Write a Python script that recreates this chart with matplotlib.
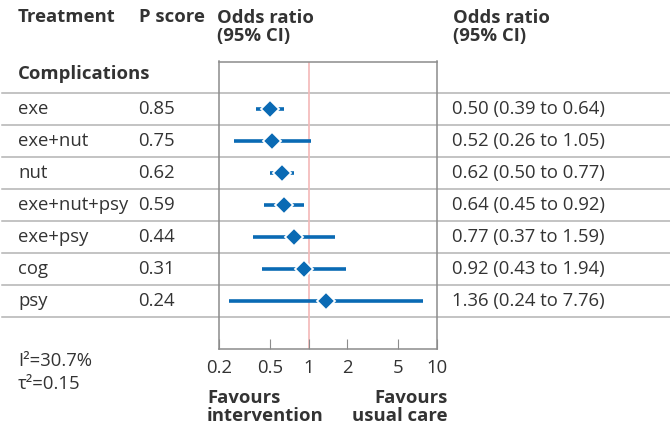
import matplotlib
matplotlib.use("Agg")
import matplotlib.pyplot as plt
import matplotlib.transforms as mtransforms

plt.rcParams['font.family'] = ['Open Sans', 'DejaVu Sans']

treatments = ["exe", "exe+nut", "nut", "exe+nut+psy", "exe+psy", "cog", "psy"]
p_scores = ["0.85", "0.75", "0.62", "0.59", "0.44", "0.31", "0.24"]
odds = [0.50, 0.52, 0.62, 0.64, 0.77, 0.92, 1.36]
lower = [0.39, 0.26, 0.50, 0.45, 0.37, 0.43, 0.24]
upper = [0.64, 1.05, 0.77, 0.92, 1.59, 1.94, 7.76]
xticks = [0.2, 0.5, 1, 2, 5, 10]
xticklabels = ["0.2", "0.5", "1", "2", "5", "10"]

W, H = 670, 432
fig = plt.figure(figsize=(W / 100, H / 100), dpi=100)
ax_l, ax_r, ax_t, ax_b = 219, 437, 61.5, 349
ax = fig.add_axes([ax_l / W, 1 - ax_b / H, (ax_r - ax_l) / W, (ax_b - ax_t) / H])

blue = "#0a6ab4"
txt = "#333333"
grid = "#b3b3b3"
fs = 13.3

ax.set_xscale("log")
ax.set_xlim(0.2, 10)
ax.set_ylim(7.5, -1.48)
ax.axvline(1, color="#f4b8b8", lw=1.2, zorder=1)

n = len(treatments)
for i in range(n):
    ax.plot([lower[i], upper[i]], [i, i], color=blue, lw=2.6, solid_capstyle="butt", zorder=2)
    ax.plot(odds[i], i, marker="D", ms=9.5, color=blue, mec="white", mew=1.3, zorder=3)

for k in range(n + 1):
    ax.axhline(k - 0.5, xmin=(2 - ax_l) / (ax_r - ax_l), xmax=(670 - ax_l) / (ax_r - ax_l),
               color=grid, lw=1.1, clip_on=False, zorder=0)

for s in ax.spines.values():
    s.set_color("#8c8c8c")
    s.set_linewidth(1.1)
ax.set_xticks(xticks)
ax.set_xticklabels(xticklabels)
ax.minorticks_off()
ax.tick_params(axis="x", direction="in", length=7, color="#8c8c8c", labelsize=fs,
               labelcolor=txt, pad=7)
ax.set_yticks([])

tr = mtransforms.blended_transform_factory(fig.transFigure, ax.transData)
for i in range(n):
    ax.text(18 / W, i, treatments[i], transform=tr, ha="left", va="center", fontsize=fs, color=txt)
    ax.text(138 / W, i, p_scores[i], transform=tr, ha="left", va="center", fontsize=fs, color=txt)
    ax.text(452 / W, i, f"{odds[i]:.2f} ({lower[i]:.2f} to {upper[i]:.2f})", transform=tr,
            ha="left", va="center", fontsize=fs, color=txt)

def ftext(x, y, s, **kw):
    fig.text(x / W, 1 - y / H, s, fontsize=fs, color=txt, **kw)

ftext(18, 17, "Treatment", weight="bold", va="center")
ftext(139, 17, "P score", weight="bold", va="center")
ftext(217, 27, "Odds ratio\n(95% CI)", weight="bold", va="center", linespacing=1.05)
ftext(453, 27, "Odds ratio\n(95% CI)", weight="bold", va="center", linespacing=1.05)
ftext(18, 74, "Complications", weight="bold", va="center")
ftext(18, 361, "I²=30.7%", va="center")
ftext(18, 384, "τ²=0.15", va="center")
ftext(207, 407, "Favours\nintervention", weight="bold", va="center", ha="left", linespacing=1.05)
ftext(448, 407, "Favours\nusual care", weight="bold", va="center", ha="right",
      multialignment="right", linespacing=1.05)

fig.savefig("out.png", dpi=100)
